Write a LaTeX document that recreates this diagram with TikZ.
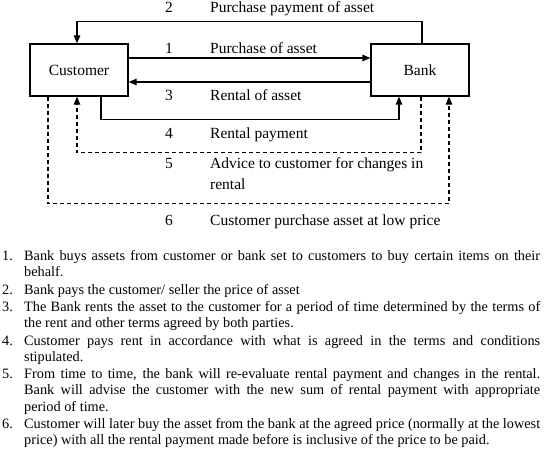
\documentclass[tikz,border=0pt]{standalone}
\usepackage{fontspec}
\setmainfont{Liberation Serif}
\usetikzlibrary{arrows.meta}
\tikzset{
  ar/.style={-{Triangle[length=8pt,width=6.5pt]},line width=1.3pt},
  dar/.style={ar,dash pattern=on 4pt off 3pt},
  box/.style={draw,line width=1.3pt,minimum width=98pt,minimum height=52pt,inner sep=0pt,font=\fontsize{15.5}{18}\selectfont},
  num/.style={anchor=base,inner sep=0pt,font=\fontsize{15.5}{18}\selectfont},
  lbl/.style={anchor=base west,inner sep=0pt,font=\fontsize{15.5}{21.5}\selectfont}
}
\newcommand{\noteitem}[2]{\hangindent=22pt\hangafter=1\noindent\makebox[22pt][l]{#1.}#2\par}

\begin{document}
\begin{tikzpicture}[x=1pt,y=-1pt]
\useasboundingbox (0,0) rectangle (544,448);
\node[box] (cust) at (79,70) {Customer};
\node[box] (bank) at (420,70) {Bank};
\draw[ar] ([xshift=2pt]bank.north) -- ++(0,-22) -| ([xshift=-2pt]cust.north);
\draw[ar] ([yshift=12pt]cust.east) -- ([yshift=12pt]bank.west);
\draw[ar] ([yshift=-12pt]bank.west) -- ([yshift=-12pt]cust.east);
\draw[ar] ([xshift=22pt]cust.south) -- ++(0,23) -| ([xshift=-21pt]bank.south);
\draw[dar] ([xshift=1pt]bank.south) -- ++(0,56) -| ([xshift=-2pt]cust.south);
\draw[dar] ([xshift=-31pt]cust.south) -- ++(0,107) -| ([xshift=29pt]bank.south);
\foreach \k/\y/\t in {2/12.5/Purchase payment of asset,1/53/Purchase of asset,3/100.5/Rental of asset,4/138/Rental payment,
  5/168/{\parbox[t]{230pt}{Advice to customer for changes in\\rental}},6/225.5/Customer purchase asset at low price}{
  \node[num] (n\k) at (169,\y) {\k};
  \node[lbl] (l\k) at (210,\y) {\t};}
\node[anchor=base west,inner sep=0pt] (notes) at (2,260.5) {\parbox[t]{538pt}{\fontsize{14.3}{16.2}\selectfont\parskip=1.2pt
  \noteitem{1}{Bank buys assets from customer or bank set to customers to buy certain items on their\linebreak behalf.}
  \noteitem{2}{Bank pays the customer/ seller the price of asset}
  \noteitem{3}{The Bank rents the asset to the customer for a period of time determined by the terms of\linebreak the rent and other terms agreed by both parties.}
  \noteitem{4}{Customer pays rent in accordance with what is agreed in the terms and conditions\linebreak stipulated.}
  \noteitem{5}{From time to time, the bank will re-evaluate rental payment and changes in the rental.\linebreak Bank will advise the customer with the new sum of rental payment with appropriate\linebreak period of time.}
  \noteitem{6}{Customer will later buy the asset from the bank at the agreed price (normally at the lowest\linebreak price) with all the rental payment made before is inclusive of the price to be paid.}}};
\end{tikzpicture}
\end{document}
